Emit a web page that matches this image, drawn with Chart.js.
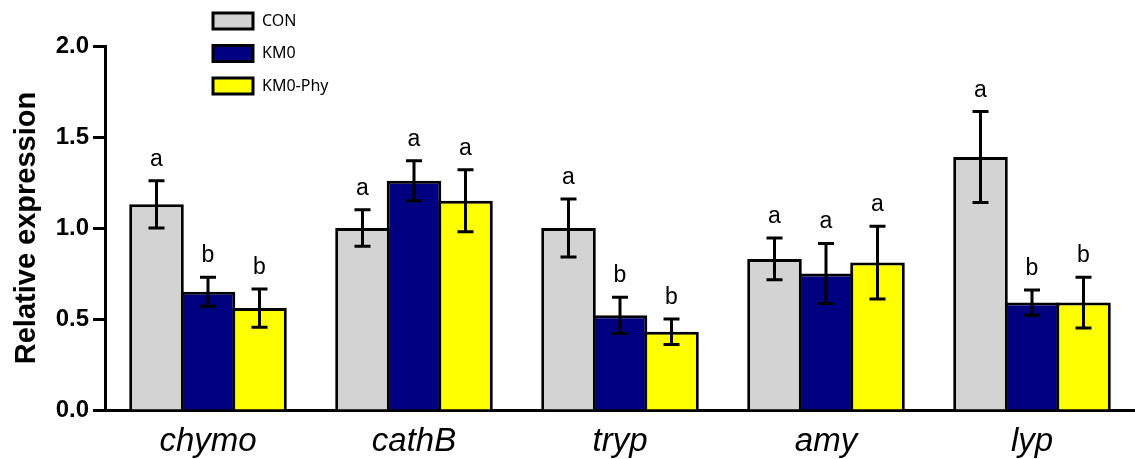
<!DOCTYPE html>
<html>
<head>
<meta charset="utf-8">
<script src="https://cdn.jsdelivr.net/npm/chart.js@4"></script>
<style>
  html, body { margin: 0; padding: 0; background: #fff; }
  #wrap { width: 1135px; height: 459px; position: relative; }
</style>
</head>
<body>
<div id="wrap"><canvas id="grafico"></canvas></div>
<script>
// Datos
const categorias = ['chymo', 'cathB', 'tryp', 'amy', 'lyp'];
const series = ['CON', 'KM0', 'KM0-Phy'];
const valoresCON = [1.13, 1.00, 1.00, 0.83, 1.39];
const valoresKM0 = [0.65, 1.26, 0.52, 0.75, 0.59];
const valoresPhy = [0.56, 1.15, 0.43, 0.81, 0.59];
const errorCON = [0.13, 0.10, 0.16, 0.115, 0.25];
const errorKM0 = [0.08, 0.11, 0.10, 0.165, 0.07];
const errorPhy = [0.105, 0.17, 0.07, 0.20, 0.14];
const letrasCON = ['a', 'a', 'a', 'a', 'a'];
const letrasKM0 = ['b', 'a', 'b', 'a', 'b'];
const letrasPhy = ['b', 'a', 'b', 'a', 'b'];
const ticksY = [0, 0.5, 1.0, 1.5, 2.0];

const colores = ['#d3d3d3', '#000080', '#ffff00'];
const errores = [errorCON, errorKM0, errorPhy];
const letras = [letrasCON, letrasKM0, letrasPhy];

// Barras de error + letras de significancia
const errorBarsPlugin = {
  id: 'errorBars',
  afterDatasetsDraw(chart) {
    const ctx = chart.ctx;
    const y = chart.scales.y;
    ctx.save();
    ctx.strokeStyle = '#000';
    ctx.lineWidth = 3;
    ctx.fillStyle = '#000';
    ctx.font = '23px "Liberation Sans", Arial, sans-serif';
    ctx.textAlign = 'center';
    ctx.textBaseline = 'alphabetic';
    chart.data.datasets.forEach((ds, i) => {
      const meta = chart.getDatasetMeta(i);
      meta.data.forEach((bar, j) => {
        const v = ds.data[j];
        const e = errores[i][j];
        const yTop = y.getPixelForValue(v + e);
        const yBot = y.getPixelForValue(v - e);
        const x = bar.x;
        ctx.beginPath();
        ctx.moveTo(x, yTop); ctx.lineTo(x, yBot);
        ctx.moveTo(x - 8, yTop); ctx.lineTo(x + 8, yTop);
        ctx.moveTo(x - 8, yBot); ctx.lineTo(x + 8, yBot);
        ctx.stroke();
        ctx.fillText(letras[i][j], x, yTop - 15);
      });
    });
    ctx.restore();
  }
};

// Leyenda vertical
const leyendaPlugin = {
  id: 'leyenda',
  afterDraw(chart) {
    const ctx = chart.ctx;
    ctx.save();
    ctx.font = '16px "Noto Sans", "Open Sans", sans-serif';
    ctx.textBaseline = 'middle';
    chart.data.datasets.forEach((ds, i) => {
      const top = 13 + i * 32.5;
      ctx.fillStyle = ds.backgroundColor;
      ctx.fillRect(213, top, 40, 16);
      ctx.strokeStyle = '#000';
      ctx.lineWidth = 3;
      ctx.strokeRect(213, top, 40, 16);
      ctx.fillStyle = '#000';
      ctx.fillText(ds.label, 262, top + 8);
    });
    ctx.restore();
  }
};

const ctx = document.getElementById('grafico').getContext('2d');
new Chart(ctx, {
  type: 'bar',
  data: {
    labels: categorias,
    datasets: [
      { label: series[0], data: valoresCON, backgroundColor: colores[0] },
      { label: series[1], data: valoresKM0, backgroundColor: colores[1] },
      { label: series[2], data: valoresPhy, backgroundColor: colores[2] }
    ].map(d => Object.assign(d, { borderColor: '#000', borderWidth: 3, inflateAmount: 0, categoryPercentage: 0.75, barPercentage: 1.06 }))
  },
  options: {
    responsive: true,
    maintainAspectRatio: false,
    animation: false,
    layout: { padding: { top: 46, right: 0, left: 0, bottom: 0 } },
    plugins: { legend: { display: false }, tooltip: { enabled: false } },
    scales: {
      x: {
        grid: { display: true, drawOnChartArea: false, drawTicks: false },
        border: { color: '#000', width: 3 },
        ticks: {
          color: '#000',
          padding: 12,
          font: { family: '"Liberation Sans", Arial, sans-serif', size: 33, style: 'italic' }
        },
        afterFit(scale) { scale.height = 49; }
      },
      y: {
        min: 0,
        max: 2.0,
        afterBuildTicks(scale) { scale.ticks = ticksY.map(v => ({ value: v })); },
        grid: { display: true, drawOnChartArea: false, drawTicks: true, tickLength: 12, tickWidth: 3, tickColor: '#000' },
        border: { color: '#000', width: 3 },
        ticks: {
          color: '#000',
          padding: 4,
          font: { family: '"Liberation Sans", Arial, sans-serif', size: 24, weight: 'bold' },
          callback: v => Number(v).toFixed(1)
        },
        title: {
          display: true,
          text: 'Relative expression',
          color: '#000',
          padding: { top: 10, bottom: 0 },
          font: { family: '"Liberation Sans", Arial, sans-serif', size: 29, weight: 'bold' }
        },
        afterFit(scale) { scale.width = 105; }
      }
    }
  },
  plugins: [errorBarsPlugin, leyendaPlugin]
});
</script>
</body>
</html>
